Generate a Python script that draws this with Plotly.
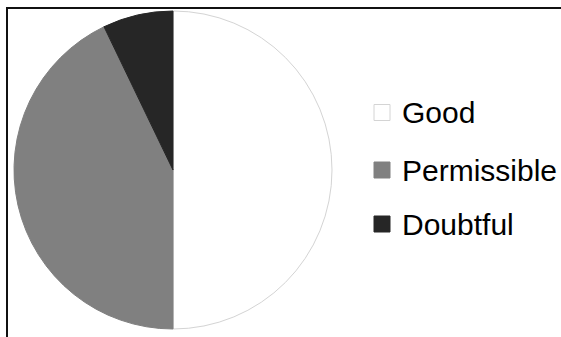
import plotly.graph_objects as go

# Water quality classes and number of samples in each
labels = ["Good", "Permissible", "Doubtful"]
counts = [7, 6, 1]
fill_colors = ["#ffffff", "#808080", "#262626"]
edge_colors = ["#d4d4d4", "#808080", "#262626"]

W, H = 561, 337

fig = go.Figure(
    go.Pie(
        labels=labels,
        values=counts,
        sort=False,
        direction="clockwise",
        rotation=0,
        marker=dict(colors=fill_colors, line=dict(color=edge_colors, width=1)),
        textinfo="none",
        hoverinfo="label+percent",
        showlegend=False,
        domain=dict(x=[14 / W, 332 / W], y=[8 / H, 326 / H]),
    )
)

# Hand-drawn legend: swatch squares plus labels
shapes = []
annotations = []
legend_rows = [112.5, 170, 224]
for lab, fc, ec, yc in zip(labels, fill_colors, edge_colors, legend_rows):
    shapes.append(dict(
        type="rect", xref="paper", yref="paper",
        x0=374 / W, x1=390 / W,
        y0=(H - yc - 8) / H, y1=(H - yc + 8) / H,
        fillcolor=fc, line=dict(color=ec, width=1),
    ))
    annotations.append(dict(
        text=lab, xref="paper", yref="paper",
        x=400 / W, y=(H - yc) / H, xanchor="left", yanchor="middle",
        showarrow=False,
        font=dict(family="Liberation Sans, Arial", size=30, color="#000000"),
    ))

# Outer frame (top and left edges) as thin filled bars
shapes.append(dict(type="rect", xref="paper", yref="paper",
                   x0=6 / W, x1=1.0, y0=(H - 9) / H, y1=(H - 7) / H,
                   fillcolor="#111111", line=dict(width=0)))
shapes.append(dict(type="rect", xref="paper", yref="paper",
                   x0=6 / W, x1=8 / W, y0=0.0, y1=(H - 7) / H,
                   fillcolor="#111111", line=dict(width=0)))

fig.update_layout(
    width=W, height=H,
    margin=dict(l=0, r=0, t=0, b=0),
    paper_bgcolor="#ffffff",
    plot_bgcolor="#ffffff",
    shapes=shapes,
    annotations=annotations,
)

fig.write_html("out.html", config={"displayModeBar": False})
